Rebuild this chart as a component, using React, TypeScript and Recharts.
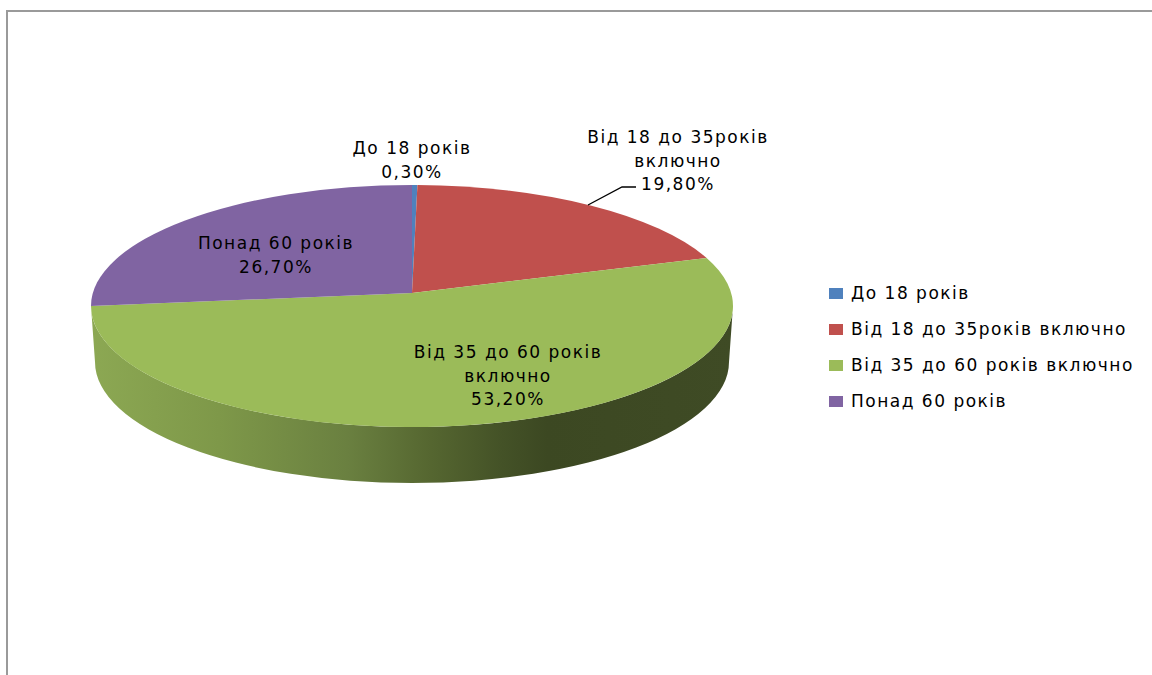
import React from "react";
import { PieChart, Pie, Cell, Legend } from "recharts";

const categories = ["До 18 років", "Від 18 до 35років включно", "Від 35 до 60 років включно", "Понад 60 років"];
const shares = [0.3, 19.8, 53.2, 26.7];
const colors = ["#4F81BD", "#C0504D", "#9BBB59", "#8064A2"];
const labelLines = [["До 18 років"], ["Від 18 до 35років", "включно"], ["Від 35 до 60 років", "включно"], ["Понад 60 років"]];

const rows = categories.map((name, i) => ({ name, value: shares[i] }));

const FONT = "'DejaVu Sans', sans-serif";
const FONT_SIZE = 17;
const SPACING = 1.5;
const SQUASH = 121 / 321;
const TILT = -0.107;
const DEPTH = 56;
const BOTTOM_INSET = 4;

// Perspective: maps a pie angle to the position on the rim of the tilted disc
function rim(angleDeg: number) {
  const th = ((90 - angleDeg) * Math.PI) / 180;
  const u = Math.sin(th);
  const v = -Math.cos(th);
  const d = 1 + TILT * v;
  return { u: (u * Math.sqrt(1 - TILT * TILT)) / d, v: (v + TILT) / d };
}

function Slice(props: any) {
  const { cx, cy, outerRadius, startAngle, endAngle, fill, index } = props;
  const rx = outerRadius;
  const ry = outerRadius * SQUASH;
  const a = rim(startAngle);
  const b = rim(endAngle);
  const apexY = cy + TILT * ry;
  const pa = [cx + a.u * rx, cy + a.v * ry];
  const pb = [cx + b.u * rx, cy + b.v * ry];
  const param = (p: { u: number; v: number }) => ((Math.atan2(p.u, -p.v) * 180) / Math.PI + 360) % 360;
  const t1 = param(a);
  let t2 = param(b);
  if (t2 <= t1) t2 += 360;
  const large = t2 - t1 > 180 ? 1 : 0;
  const top = `M${cx},${apexY} L${pa[0]},${pa[1]} A${rx},${ry} 0 ${large} 1 ${pb[0]},${pb[1]} Z`;
  const showSide = t1 < 270 && t2 > 90;
  const gid = `side-${index}`;
  let side = null;
  if (showSide) {
    const s = (Math.max(t1, 90) * Math.PI) / 180;
    const e = (Math.min(t2, 270) * Math.PI) / 180;
    const pt = (t: number, r: number, q: number, y0: number) => [cx + Math.sin(t) * r, y0 - Math.cos(t) * q];
    const s1 = pt(s, rx, ry, cy);
    const e1 = pt(e, rx, ry, cy);
    const s2 = pt(s, rx - BOTTOM_INSET, ry, cy + DEPTH);
    const e2 = pt(e, rx - BOTTOM_INSET, ry, cy + DEPTH);
    side = (
      <>
        <defs>
          <linearGradient id={gid} gradientUnits="userSpaceOnUse" x1={cx - rx} x2={cx + rx} y1={0} y2={0}>
            <stop offset="0" stopColor="#8CA853" />
            <stop offset="0.2" stopColor="#7E9849" />
            <stop offset="0.4" stopColor="#6A8040" />
            <stop offset="0.53" stopColor="#556630" />
            <stop offset="0.64" stopColor="#445227" />
            <stop offset="0.71" stopColor="#3C4822" />
            <stop offset="1" stopColor="#3F4B25" />
          </linearGradient>
        </defs>
        <path
          d={`M${s1[0]},${s1[1]} A${rx},${ry} 0 0 1 ${e1[0]},${e1[1]} L${e2[0]},${e2[1]} A${rx - BOTTOM_INSET},${ry} 0 0 0 ${s2[0]},${s2[1]} Z`}
          fill={`url(#${gid})`}
        />
      </>
    );
  }
  return (
    <g>
      {side}
      <path d={top} fill={fill} />
    </g>
  );
}

const LINE = 23.5;

function SliceLabel(props: any) {
  const { index, value } = props;
  const anchors = [
    { x: 412, y: 154 },
    { x: 678, y: 143 },
    { x: 508, y: 358 },
    { x: 276, y: 249 },
  ];
  const { x, y } = anchors[index];
  const lines = [...labelLines[index], `${value.toFixed(2).replace(".", ",")}%`];
  return (
    <g>
      <text x={x} y={y} textAnchor="middle" fontFamily={FONT} fontSize={FONT_SIZE} letterSpacing={SPACING} fill="#000">
        {lines.map((l, i) => (
          <tspan key={i} x={x} y={y + i * LINE}>
            {l}
          </tspan>
        ))}
      </text>
      {index === 1 && <polyline points="588,205 622,187 636,187" fill="none" stroke="#000" strokeWidth={1.3} />}
    </g>
  );
}

function LegendBox({ payload }: any) {
  return (
    <div style={{ position: "absolute", left: 829, top: 275, fontFamily: FONT, fontSize: FONT_SIZE, letterSpacing: SPACING, color: "#000" }}>
      {(payload || []).map((p: any, i: number) => (
        <div key={i} style={{ height: 36, display: "flex", alignItems: "center", whiteSpace: "nowrap" }}>
          <span style={{ width: 14, height: 11, background: colors[i], marginRight: 8, display: "inline-block" }} />
          {p.value}
        </div>
      ))}
    </div>
  );
}

export default function App() {
  return (
    <div style={{ position: "absolute", left: 0, top: 0, width: 1152, height: 675, background: "#fff", overflow: "hidden" }}>
      <div style={{ position: "absolute", left: 6, top: 10, width: 1146, height: 665, borderTop: "2px solid #9a9a9a", borderLeft: "2px solid #9a9a9a" }} />
      <PieChart width={1152} height={675} margin={{ top: 0, right: 0, bottom: 0, left: 0 }} style={{ position: "absolute", left: 0, top: 0 }}>
        <Pie
          data={rows}
          dataKey="value"
          nameKey="name"
          cx={412}
          cy={306}
          innerRadius={0}
          outerRadius={321}
          startAngle={90}
          endAngle={-270}
          paddingAngle={0}
          stroke="none"
          isAnimationActive={false}
          shape={Slice}
          inactiveShape={Slice}
          activeShape={Slice}
          label={SliceLabel}
          labelLine={false}
        >
          {rows.map((r, i) => (
            <Cell key={r.name} fill={colors[i]} />
          ))}
        </Pie>
        <Legend itemSorter={null} content={LegendBox} wrapperStyle={{ position: "absolute", left: 0, top: 0, width: 0, height: 0 }} />
      </PieChart>
    </div>
  );
}
